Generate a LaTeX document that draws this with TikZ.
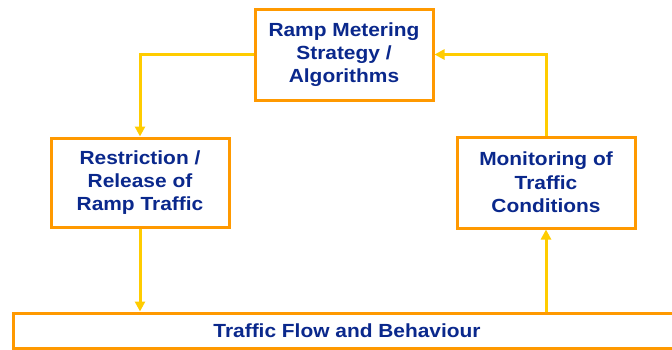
\documentclass[tikz,border=0pt]{standalone}
\usepackage{fontspec}
\setmainfont{Liberation Sans}[FakeStretch=1.1]
\usetikzlibrary{arrows.meta}
\definecolor{boxorange}{RGB}{255,153,0}
\definecolor{arrgold}{RGB}{255,204,0}
\definecolor{txtblue}{RGB}{10,40,140}
\tikzset{
  box/.style={draw=boxorange, line width=3pt, fill=white, align=center,
    font=\fontsize{19}{23.3}\selectfont\bfseries, text=txtblue, inner sep=0pt},
  conn/.style={draw=arrgold, line width=3pt, -{Triangle[width=10pt,length=10pt]}}
}
\begin{document}
\begin{tikzpicture}[x=1pt,y=-1pt]
\useasboundingbox (0,0) rectangle (672,349);
\clip (0,0) rectangle (672,349);
\node[box, minimum width=178pt, minimum height=91pt] (top) at (344,54.5) {Ramp Metering\\Strategy /\\Algorithms};
\node[box, minimum width=178pt, minimum height=89pt] (left) at (140,182.5) {Restriction /\\Release of\\Ramp Traffic};
\node[box, minimum width=178pt, minimum height=91pt] (right) at (546,182.5) {Monitoring of\\Traffic\\Conditions};
\node[box, minimum width=668pt, minimum height=35pt] (bottom) at (347,330.5) {Traffic Flow and Behaviour};
\draw[conn] (top.west) -| (left.north);
\draw[conn] (right.north) |- (top.east);
\draw[conn] (left.south) -- (left.south |- bottom.north);
\draw[conn] (right.south |- bottom.north) -- (right.south);
\end{tikzpicture}
\end{document}
